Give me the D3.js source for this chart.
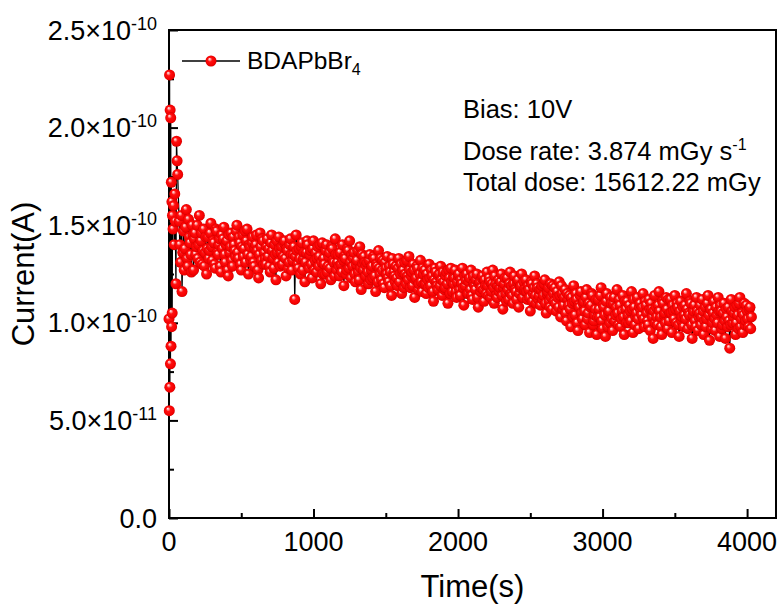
<!DOCTYPE html>
<html>
<head>
<meta charset="utf-8">
<script src="https://cdn.jsdelivr.net/npm/d3@7"></script>
<style>
  body { margin: 0; background: #fff; }
  text { font-family: Arial, "Liberation Sans", sans-serif; fill: #000; }
</style>
</head>
<body>
<div id="chart"></div>
<script>
// Photocurrent under X-ray. Current in units of 1e-10 A.
var timeS = [
  0, 2, 4, 6, 8, 10, 12, 14, 16, 18, 20, 22, 24,
  28, 32, 36, 40, 44, 48, 52, 56, 60,
  70, 75, 80, 85, 90, 95, 100, 105, 110, 115, 120, 125, 130, 135, 140, 145, 150, 155, 160, 165,
  170, 175, 180, 185, 190, 195, 200, 205, 210, 215, 220, 225, 230, 235, 240, 245, 250, 255, 260, 265,
  270, 275, 280, 285, 290, 295, 300, 305, 310, 315, 320, 325, 330, 335, 340, 345, 350, 355, 360, 365,
  370, 375, 380, 385, 390, 395, 400, 405, 410, 415, 420, 425, 430, 435, 440, 445, 450, 455, 460, 465,
  470, 475, 480, 485, 490, 495, 500, 505, 510, 515, 520, 525, 530, 535, 540, 545, 550, 555, 560, 565,
  570, 575, 580, 585, 590, 595, 600, 605, 610, 615, 620, 625, 630, 635, 640, 645, 650, 655, 660, 665,
  670, 675, 680, 685, 690, 695, 700, 705, 710, 715, 720, 725, 730, 735, 740, 745, 750, 755, 760, 765,
  770, 775, 780, 785, 790, 795, 800, 805, 810, 815, 820, 825, 830, 835, 840, 845, 850, 855, 860, 865,
  870, 875, 880, 885, 890, 895, 900, 905, 910, 915, 920, 925, 930, 935, 940, 945, 950, 955, 960, 965,
  970, 975, 980, 985, 990, 995, 1000, 1005, 1010, 1015, 1020, 1025, 1030, 1035, 1040, 1045, 1050, 1055, 1060, 1065,
  1070, 1075, 1080, 1085, 1090, 1095, 1100, 1105, 1110, 1115, 1120, 1125, 1130, 1135, 1140, 1145, 1150, 1155, 1160, 1165,
  1170, 1175, 1180, 1185, 1190, 1195, 1200, 1205, 1210, 1215, 1220, 1225, 1230, 1235, 1240, 1245, 1250, 1255, 1260, 1265,
  1270, 1275, 1280, 1285, 1290, 1295, 1300, 1305, 1310, 1315, 1320, 1325, 1330, 1335, 1340, 1345, 1350, 1355, 1360, 1365,
  1370, 1375, 1380, 1385, 1390, 1395, 1400, 1405, 1410, 1415, 1420, 1425, 1430, 1435, 1440, 1445, 1450, 1455, 1460, 1465,
  1470, 1475, 1480, 1485, 1490, 1495, 1500, 1505, 1510, 1515, 1520, 1525, 1530, 1535, 1540, 1545, 1550, 1555, 1560, 1565,
  1570, 1575, 1580, 1585, 1590, 1595, 1600, 1605, 1610, 1615, 1620, 1625, 1630, 1635, 1640, 1645, 1650, 1655, 1660, 1665,
  1670, 1675, 1680, 1685, 1690, 1695, 1700, 1705, 1710, 1715, 1720, 1725, 1730, 1735, 1740, 1745, 1750, 1755, 1760, 1765,
  1770, 1775, 1780, 1785, 1790, 1795, 1800, 1805, 1810, 1815, 1820, 1825, 1830, 1835, 1840, 1845, 1850, 1855, 1860, 1865,
  1870, 1875, 1880, 1885, 1890, 1895, 1900, 1905, 1910, 1915, 1920, 1925, 1930, 1935, 1940, 1945, 1950, 1955, 1960, 1965,
  1970, 1975, 1980, 1985, 1990, 1995, 2000, 2005, 2010, 2015, 2020, 2025, 2030, 2035, 2040, 2045, 2050, 2055, 2060, 2065,
  2070, 2075, 2080, 2085, 2090, 2095, 2100, 2105, 2110, 2115, 2120, 2125, 2130, 2135, 2140, 2145, 2150, 2155, 2160, 2165,
  2170, 2175, 2180, 2185, 2190, 2195, 2200, 2205, 2210, 2215, 2220, 2225, 2230, 2235, 2240, 2245, 2250, 2255, 2260, 2265,
  2270, 2275, 2280, 2285, 2290, 2295, 2300, 2305, 2310, 2315, 2320, 2325, 2330, 2335, 2340, 2345, 2350, 2355, 2360, 2365,
  2370, 2375, 2380, 2385, 2390, 2395, 2400, 2405, 2410, 2415, 2420, 2425, 2430, 2435, 2440, 2445, 2450, 2455, 2460, 2465,
  2470, 2475, 2480, 2485, 2490, 2495, 2500, 2505, 2510, 2515, 2520, 2525, 2530, 2535, 2540, 2545, 2550, 2555, 2560, 2565,
  2570, 2575, 2580, 2585, 2590, 2595, 2600, 2605, 2610, 2615, 2620, 2625, 2630, 2635, 2640, 2645, 2650, 2655, 2660, 2665,
  2670, 2675, 2680, 2685, 2690, 2695, 2700, 2705, 2710, 2715, 2720, 2725, 2730, 2735, 2740, 2745, 2750, 2755, 2760, 2765,
  2770, 2775, 2780, 2785, 2790, 2795, 2800, 2805, 2810, 2815, 2820, 2825, 2830, 2835, 2840, 2845, 2850, 2855, 2860, 2865,
  2870, 2875, 2880, 2885, 2890, 2895, 2900, 2905, 2910, 2915, 2920, 2925, 2930, 2935, 2940, 2945, 2950, 2955, 2960, 2965,
  2970, 2975, 2980, 2985, 2990, 2995, 3000, 3005, 3010, 3015, 3020, 3025, 3030, 3035, 3040, 3045, 3050, 3055, 3060, 3065,
  3070, 3075, 3080, 3085, 3090, 3095, 3100, 3105, 3110, 3115, 3120, 3125, 3130, 3135, 3140, 3145, 3150, 3155, 3160, 3165,
  3170, 3175, 3180, 3185, 3190, 3195, 3200, 3205, 3210, 3215, 3220, 3225, 3230, 3235, 3240, 3245, 3250, 3255, 3260, 3265,
  3270, 3275, 3280, 3285, 3290, 3295, 3300, 3305, 3310, 3315, 3320, 3325, 3330, 3335, 3340, 3345, 3350, 3355, 3360, 3365,
  3370, 3375, 3380, 3385, 3390, 3395, 3400, 3405, 3410, 3415, 3420, 3425, 3430, 3435, 3440, 3445, 3450, 3455, 3460, 3465,
  3470, 3475, 3480, 3485, 3490, 3495, 3500, 3505, 3510, 3515, 3520, 3525, 3530, 3535, 3540, 3545, 3550, 3555, 3560, 3565,
  3570, 3575, 3580, 3585, 3590, 3595, 3600, 3605, 3610, 3615, 3620, 3625, 3630, 3635, 3640, 3645, 3650, 3655, 3660, 3665,
  3670, 3675, 3680, 3685, 3690, 3695, 3700, 3705, 3710, 3715, 3720, 3725, 3730, 3735, 3740, 3745, 3750, 3755, 3760, 3765,
  3770, 3775, 3780, 3785, 3790, 3795, 3800, 3805, 3810, 3815, 3820, 3825, 3830, 3835, 3840, 3845, 3850, 3855, 3860, 3865,
  3870, 3875, 3880, 3885, 3890, 3895, 3900, 3905, 3910, 3915, 3920, 3925, 3930, 3935, 3940, 3945, 3950, 3955, 3960, 3965,
  3970, 3975, 3980, 3985, 3990, 3995, 4000, 4005, 4010, 4015, 4020, 4025, 4030
];

var currentE10 = [
  1.02, 0.55, 2.27, 0.67, 2.09, 0.79, 2.05, 0.88, 1.72, 0.98, 1.62, 1.05, 1.55,
  1.48, 1.60, 1.40, 1.66, 1.52, 1.20, 1.93, 1.83, 1.76,
  1.52, 1.40, 1.31, 1.55, 1.16, 1.36, 1.47, 1.27, 1.38, 1.49, 1.58, 1.33, 1.29, 1.53, 1.44, 1.41, 1.35, 1.26, 1.50, 1.45,
  1.27, 1.43, 1.46, 1.35, 1.39, 1.50, 1.33, 1.40, 1.55, 1.31, 1.42, 1.46, 1.30, 1.37, 1.48, 1.29, 1.36, 1.44, 1.25, 1.38,
  1.44, 1.33, 1.37, 1.46, 1.51, 1.39, 1.32, 1.42, 1.41, 1.30, 1.28, 1.48, 1.47, 1.36, 1.35, 1.40, 1.43, 1.29, 1.26, 1.45,
  1.38, 1.43, 1.49, 1.35, 1.31, 1.40, 1.42, 1.27, 1.24, 1.45, 1.36, 1.39, 1.46, 1.32, 1.29, 1.44, 1.40, 1.37, 1.34, 1.47,
  1.50, 1.36, 1.33, 1.44, 1.41, 1.30, 1.27, 1.39, 1.45, 1.34, 1.38, 1.47, 1.31, 1.42, 1.48, 1.35, 1.25, 1.40, 1.39, 1.32,
  1.34, 1.41, 1.44, 1.31, 1.29, 1.38, 1.40, 1.45, 1.37, 1.27, 1.23, 1.35, 1.46, 1.39, 1.32, 1.43, 1.42, 1.30, 1.36, 1.33,
  1.30, 1.39, 1.43, 1.34, 1.38, 1.29, 1.26, 1.41, 1.45, 1.37, 1.33, 1.28, 1.40, 1.35, 1.22, 1.42, 1.36, 1.31, 1.44, 1.38,
  1.29, 1.36, 1.39, 1.30, 1.34, 1.41, 1.42, 1.33, 1.24, 1.38, 1.37, 1.28, 1.31, 1.40, 1.43, 1.35, 1.27, 1.32, 1.35, 1.39,
  1.12, 1.34, 1.45, 1.37, 1.30, 1.28, 1.38, 1.33, 1.25, 1.39, 1.41, 1.27, 1.33, 1.36, 1.21, 1.31, 1.36, 1.42, 1.40, 1.29,
  1.28, 1.35, 1.37, 1.30, 1.23, 1.38, 1.42, 1.27, 1.32, 1.36, 1.26, 1.33, 1.39, 1.29, 1.34, 1.40, 1.20, 1.31, 1.41, 1.25,
  1.33, 1.30, 1.25, 1.37, 1.40, 1.26, 1.29, 1.34, 1.36, 1.28, 1.22, 1.39, 1.38, 1.32, 1.31, 1.24, 1.43, 1.35, 1.27, 1.31,
  1.35, 1.29, 1.24, 1.36, 1.30, 1.26, 1.40, 1.32, 1.19, 1.34, 1.33, 1.25, 1.27, 1.38, 1.37, 1.28, 1.42, 1.31, 1.23, 1.35,
  1.29, 1.33, 1.36, 1.25, 1.21, 1.30, 1.32, 1.37, 1.26, 1.22, 1.39, 1.28, 1.17, 1.35, 1.30, 1.27, 1.34, 1.31, 1.24, 1.29,
  1.31, 1.26, 1.20, 1.32, 1.35, 1.22, 1.27, 1.29, 1.23, 1.34, 1.33, 1.24, 1.16, 1.30, 1.29, 1.21, 1.37, 1.28, 1.25, 1.33,
  1.22, 1.27, 1.32, 1.20, 1.18, 1.31, 1.28, 1.25, 1.34, 1.23, 1.21, 1.29, 1.26, 1.19, 1.14, 1.33, 1.30, 1.26, 1.24, 1.21,
  1.29, 1.23, 1.19, 1.28, 1.33, 1.21, 1.25, 1.30, 1.15, 1.26, 1.27, 1.18, 1.31, 1.25, 1.20, 1.32, 1.24, 1.22, 1.34, 1.27,
  1.18, 1.24, 1.26, 1.19, 1.30, 1.27, 1.13, 1.22, 1.23, 1.29, 1.28, 1.17, 1.20, 1.25, 1.32, 1.21, 1.16, 1.28, 1.25, 1.20,
  1.27, 1.20, 1.15, 1.25, 1.22, 1.18, 1.30, 1.23, 1.19, 1.27, 1.24, 1.16, 1.11, 1.22, 1.28, 1.26, 1.21, 1.19, 1.17, 1.24,
  1.25, 1.19, 1.29, 1.22, 1.14, 1.26, 1.21, 1.17, 1.18, 1.24, 1.26, 1.20, 1.10, 1.27, 1.23, 1.15, 1.28, 1.21, 1.16, 1.23,
  1.20, 1.23, 1.27, 1.16, 1.13, 1.21, 1.24, 1.25, 1.17, 1.14, 1.22, 1.20, 1.28, 1.18, 1.09, 1.24, 1.19, 1.22, 1.25, 1.15,
  1.15, 1.21, 1.23, 1.17, 1.27, 1.14, 1.12, 1.24, 1.20, 1.19, 1.17, 1.22, 1.25, 1.13, 1.08, 1.20, 1.21, 1.16, 1.18, 1.23,
  1.24, 1.17, 1.11, 1.22, 1.19, 1.15, 1.26, 1.19, 1.14, 1.23, 1.21, 1.13, 1.16, 1.20, 1.27, 1.18, 1.10, 1.24, 1.20, 1.14,
  1.13, 1.19, 1.22, 1.16, 1.18, 1.21, 1.25, 1.14, 1.07, 1.18, 1.20, 1.23, 1.15, 1.11, 1.23, 1.17, 1.12, 1.20, 1.26, 1.15,
  1.19, 1.14, 1.10, 1.20, 1.24, 1.17, 1.16, 1.12, 1.21, 1.22, 1.08, 1.15, 1.18, 1.19, 1.25, 1.13, 1.13, 1.21, 1.17, 1.16,
  1.22, 1.16, 1.12, 1.19, 1.17, 1.13, 1.06, 1.21, 1.20, 1.11, 1.15, 1.18, 1.24, 1.14, 1.10, 1.20, 1.18, 1.12, 1.14, 1.17,
  1.09, 1.17, 1.19, 1.12, 1.14, 1.20, 1.22, 1.10, 1.05, 1.15, 1.16, 1.18, 1.11, 1.08, 1.20, 1.13, 1.07, 1.19, 1.15, 1.11,
  1.18, 1.10, 1.06, 1.16, 1.13, 1.08, 1.21, 1.14, 1.03, 1.19, 1.15, 1.07, 1.09, 1.13, 1.17, 1.05, 1.01, 1.15, 1.12, 1.09,
  1.14, 1.07, 0.98, 1.13, 1.10, 1.03, 1.19, 1.11, 1.04, 1.15, 1.12, 1.00, 0.96, 1.09, 1.08, 1.14, 1.16, 1.05, 1.02, 1.10,
  1.11, 1.06, 0.99, 1.13, 1.17, 1.02, 1.05, 1.10, 0.95, 1.08, 1.09, 1.15, 1.14, 0.99, 1.01, 1.04, 1.07, 1.12, 0.94, 1.03,
  1.12, 1.07, 1.03, 1.14, 1.18, 1.01, 0.97, 1.09, 1.08, 1.04, 0.93, 1.11, 1.15, 0.98, 1.05, 1.06, 1.00, 1.13, 1.10, 1.02,
  0.96, 1.10, 1.13, 1.01, 1.04, 1.08, 1.17, 1.05, 0.99, 1.12, 1.09, 0.98, 1.02, 1.06, 1.14, 1.03, 0.94, 1.11, 1.07, 1.00,
  1.11, 1.04, 1.00, 1.09, 1.06, 1.01, 1.16, 1.07, 0.95, 1.12, 1.08, 0.99, 1.03, 1.05, 1.13, 1.02, 0.97, 1.08, 1.10, 1.06,
  1.04, 1.08, 1.15, 1.02, 0.98, 1.11, 1.09, 1.05, 1.01, 0.99, 1.12, 1.07, 0.96, 1.10, 1.07, 1.03, 0.92, 1.06, 1.14, 1.00,
  1.08, 1.03, 0.99, 1.09, 1.16, 1.06, 1.03, 0.98, 0.94, 1.11, 1.10, 1.04, 1.05, 1.00, 1.13, 1.07, 0.97, 1.12, 1.01, 1.05,
  1.12, 1.05, 0.95, 1.09, 1.06, 1.02, 1.14, 1.07, 1.00, 1.10, 1.08, 0.99, 0.93, 1.06, 1.11, 1.01, 1.03, 1.08, 0.98, 1.04,
  1.09, 1.02, 1.15, 1.07, 0.97, 1.05, 1.04, 1.11, 1.10, 0.99, 0.92, 1.04, 1.06, 1.09, 1.01, 0.98, 1.13, 1.06, 0.96, 1.03,
  1.05, 1.09, 0.99, 1.03, 1.12, 1.06, 0.94, 1.01, 1.08, 0.98, 1.02, 1.10, 1.14, 1.04, 0.91, 1.07, 1.07, 0.97, 1.00, 1.05,
  1.11, 1.02, 0.96, 1.08, 1.04, 1.00, 1.13, 1.06, 0.93, 1.09, 1.06, 0.97, 0.99, 1.05, 1.10, 1.01, 0.92, 1.07, 1.03, 0.98,
  1.08, 1.01, 0.87, 0.99, 1.12, 1.06, 1.00, 1.03, 1.05, 1.08, 0.94, 1.00, 1.09, 1.04, 0.97, 1.10, 1.13, 0.98, 1.02, 1.05,
  0.95, 1.04, 1.10, 0.99, 1.01, 1.09, 1.06, 1.02, 0.98, 1.07, 1.08, 0.97, 1.03
];

var xTicks = [0, 1000, 2000, 3000, 4000];
var xMinorTicks = [500, 1500, 2500, 3500];
var yTicks = [0, 0.5, 1, 1.5, 2, 2.5];
var yMinorTicks = [0.25, 0.75, 1.25, 1.75, 2.25];
var yTickMantissa = ["0.0", "5.0\u00d710", "1.0\u00d710", "1.5\u00d710", "2.0\u00d710", "2.5\u00d710"];
var yTickExponent = ["", "-11", "-10", "-10", "-10", "-10"];
var seriesName = "BDAPbBr";
var seriesSub = "4";
var notes = ["Bias: 10V", "Dose rate: 3.874 mGy s", "Total dose: 15612.22 mGy"];
var noteSup = ["", "-1", ""];

(function () {
    var width = 781, height = 605;
    var plotL = 169, plotR = 776, plotT = 30, plotB = 518;
    var symR = 5.5;

    var svg = d3.select("#chart").append("svg")
        .attr("width", width)
        .attr("height", height);

    svg.append("rect").attr("width", width).attr("height", height).attr("fill", "#fff");

    // shiny red ball symbol
    var grad = svg.append("defs").append("radialGradient")
        .attr("id", "ball")
        .attr("cx", "50%").attr("cy", "50%").attr("r", "50%")
        .attr("fx", "35%").attr("fy", "30%");
    grad.append("stop").attr("offset", "0").attr("stop-color", "#ffffff");
    grad.append("stop").attr("offset", "0.18").attr("stop-color", "#ff9a9a");
    grad.append("stop").attr("offset", "0.4").attr("stop-color", "#ff1010");
    grad.append("stop").attr("offset", "0.85").attr("stop-color", "#f40000");
    grad.append("stop").attr("offset", "1").attr("stop-color", "#d00000");

    var x = d3.scaleLinear().domain([0, 4200]).range([plotL, plotR]);
    var y = d3.scaleLinear().domain([0, 2.5]).range([plotB, plotT]);

    // ticks (pointing inward)
    function tickAxis(axis, tr) {
        var g = svg.append("g").attr("transform", tr).call(axis);
        g.select(".domain").remove();
        g.selectAll("line").attr("stroke", "#000").attr("stroke-width", 2);
        return g;
    }
    tickAxis(d3.axisBottom(x).tickValues(xTicks).tickSize(-9).tickFormat(""), "translate(0," + plotB + ")");
    tickAxis(d3.axisBottom(x).tickValues(xMinorTicks).tickSize(-5).tickFormat(""), "translate(0," + plotB + ")");
    tickAxis(d3.axisLeft(y).tickValues(yTicks).tickSize(-9).tickFormat(""), "translate(" + plotL + ",0)");
    tickAxis(d3.axisLeft(y).tickValues(yMinorTicks).tickSize(-5).tickFormat(""), "translate(" + plotL + ",0)");

    svg.append("rect")
        .attr("x", plotL).attr("y", plotT)
        .attr("width", plotR - plotL).attr("height", plotB - plotT)
        .attr("fill", "none").attr("stroke", "#000").attr("stroke-width", 2);

    // tick labels
    svg.selectAll(".xlab").data(xTicks).enter().append("text")
        .attr("class", "xlab")
        .attr("x", function (d) { return x(d); })
        .attr("y", 551)
        .attr("text-anchor", "middle")
        .attr("font-size", "27px")
        .text(function (d) { return d; });

    var ylab = svg.selectAll(".ylab").data(yTicks).enter().append("text")
        .attr("class", "ylab")
        .attr("x", 157)
        .attr("y", function (d) { return y(d) + 9.5; })
        .attr("text-anchor", "end")
        .attr("font-size", "27px");
    ylab.append("tspan").text(function (d, i) { return yTickMantissa[i]; });
    ylab.append("tspan")
        .attr("font-size", "18px")
        .attr("dy", -10)
        .text(function (d, i) { return yTickExponent[i]; });

    // axis titles
    svg.append("text")
        .attr("x", (plotL + plotR) / 2)
        .attr("y", 597)
        .attr("text-anchor", "middle")
        .attr("font-size", "31px")
        .text("Time(s)");

    svg.append("text")
        .attr("transform", "translate(34," + ((plotT + plotB) / 2) + ") rotate(-90)")
        .attr("text-anchor", "middle")
        .attr("font-size", "31px")
        .text("Current(A)");

    // data
    var pts = timeS.map(function (t, i) { return [t, currentE10[i]]; });

    svg.append("path")
        .datum(pts)
        .attr("fill", "none")
        .attr("stroke", "#000")
        .attr("stroke-width", 1.3)
        .attr("d", d3.line().x(function (d) { return x(d[0]); }).y(function (d) { return y(d[1]); }));

    svg.append("g").selectAll("circle").data(pts).enter().append("circle")
        .attr("cx", function (d) { return x(d[0]); })
        .attr("cy", function (d) { return y(d[1]); })
        .attr("r", symR)
        .attr("fill", "url(#ball)");

    // legend
    svg.append("line")
        .attr("x1", 182).attr("x2", 240).attr("y1", 61).attr("y2", 61)
        .attr("stroke", "#000").attr("stroke-width", 1.5);
    svg.append("circle").attr("cx", 211).attr("cy", 61).attr("r", symR).attr("fill", "url(#ball)");
    var leg = svg.append("text").attr("x", 247).attr("y", 69).attr("font-size", "24.5px");
    leg.append("tspan").text(seriesName);
    leg.append("tspan").attr("font-size", "16px").attr("dy", 6).text(seriesSub);

    // annotation
    var noteY = [118, 160, 191];
    notes.forEach(function (s, i) {
        var t = svg.append("text").attr("x", 463).attr("y", noteY[i]).attr("font-size", "25.5px");
        t.append("tspan").text(s);
        if (noteSup[i]) {
            t.append("tspan").attr("font-size", "16px").attr("dy", -10).text(noteSup[i]);
        }
    });
})();
</script>
</body>
</html>
